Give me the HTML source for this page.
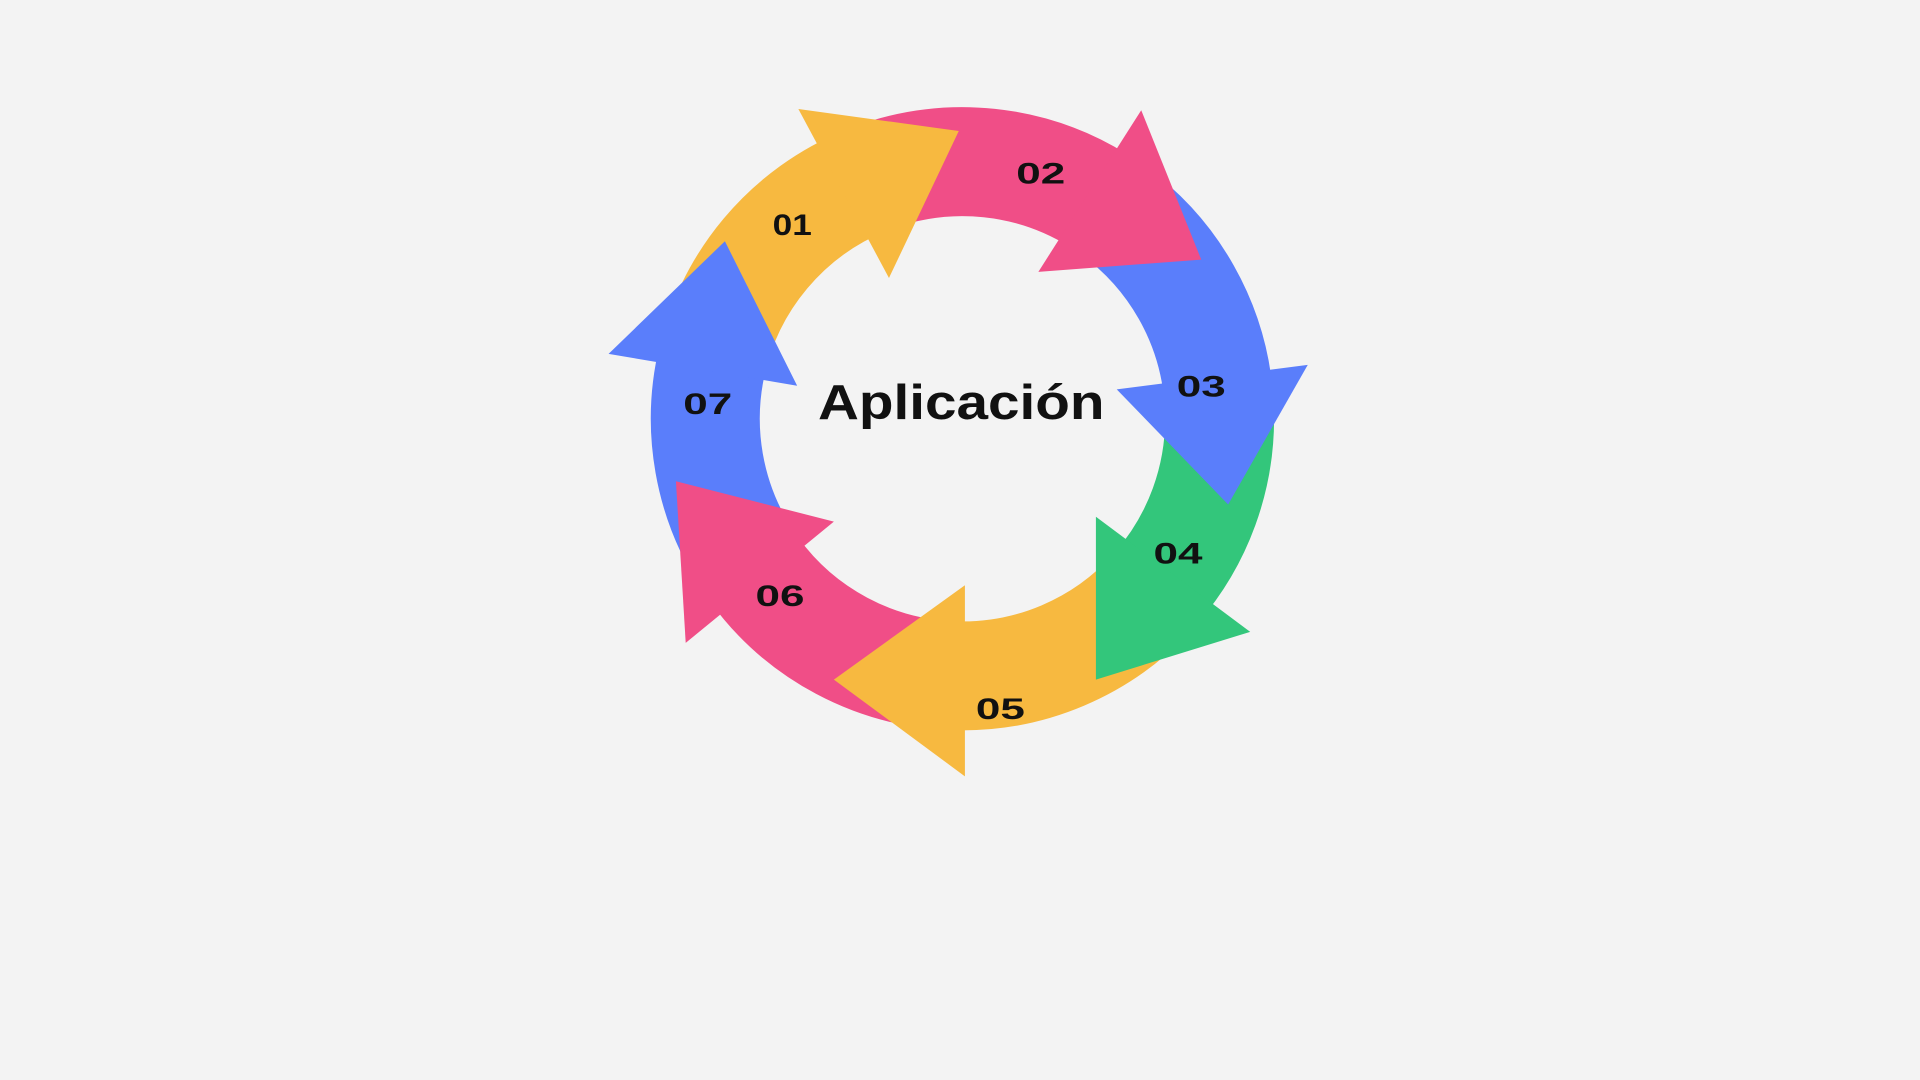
<!DOCTYPE html>
<html><head><meta charset="utf-8"><style>
html,body{margin:0;padding:0;background:#f3f3f3;}
svg{display:block;}
text{font-family:"Liberation Sans",sans-serif;font-weight:bold;fill:#111;}
</style></head><body>
<svg id="s" width="1920" height="1080" viewBox="0 0 1568 882" xmlns="http://www.w3.org/2000/svg">
<rect width="1568" height="882" fill="#f3f3f3"/>
<g id="bodies"></g>
<g id="heads">
<polygon points="652,89 783,107 726,227" fill="#F7B940"/>
<polygon points="932,90 981,212 848,222" fill="#F04E87"/>
<polygon points="1068,298 1003,412 912,318" fill="#5A7EFB"/>
<polygon points="1021,516 895,555 895,422" fill="#33C67B"/>
<polygon points="788,478 681,555 788,634" fill="#F7B940"/>
<polygon points="681,426 552,393 560,525" fill="#F04E87"/>
<polygon points="651,315 592,197 497,289" fill="#5A7EFB"/>
</g>
<g font-size="24">
<text x="647" y="192" text-anchor="middle" textLength="32" lengthAdjust="spacingAndGlyphs">01</text>
<text x="850" y="150" text-anchor="middle" textLength="40" lengthAdjust="spacingAndGlyphs">02</text>
<text x="981" y="324" text-anchor="middle" textLength="40" lengthAdjust="spacingAndGlyphs">03</text>
<text x="962" y="460" text-anchor="middle" textLength="40" lengthAdjust="spacingAndGlyphs">04</text>
<text x="817" y="587" text-anchor="middle" textLength="40" lengthAdjust="spacingAndGlyphs">05</text>
<text x="637" y="495" text-anchor="middle" textLength="40" lengthAdjust="spacingAndGlyphs">06</text>
<text x="578" y="338" text-anchor="middle" textLength="40" lengthAdjust="spacingAndGlyphs">07</text>
</g>
<text x="785" y="342" font-size="40" text-anchor="middle" textLength="234" lengthAdjust="spacingAndGlyphs">Aplicación</text>
</svg>
<script>
(function(){
var cx=786,cy=342,r=210,g=document.getElementById('bodies');
var segs=[[192,248,'#F7B940'],[250,302,'#F04E87'],[306,355,'#5A7EFB'],[359,401,'#33C67B'],[42,92,'#F7B940'],[92,144,'#F04E87'],[146,194,'#5A7EFB']];
segs.forEach(function(s){
var a1=s[0]*Math.PI/180,a2=s[1]*Math.PI/180;
var x1=cx+r*Math.cos(a1),y1=cy+r*Math.sin(a1),x2=cx+r*Math.cos(a2),y2=cy+r*Math.sin(a2);
var p=document.createElementNS('http://www.w3.org/2000/svg','path');
p.setAttribute('d','M'+x1+' '+y1+' A'+r+' '+r+' 0 0 1 '+x2+' '+y2);
p.setAttribute('fill','none');p.setAttribute('stroke',s[2]);p.setAttribute('stroke-width','89');
g.appendChild(p);
});
})();
</script>
</body></html>
